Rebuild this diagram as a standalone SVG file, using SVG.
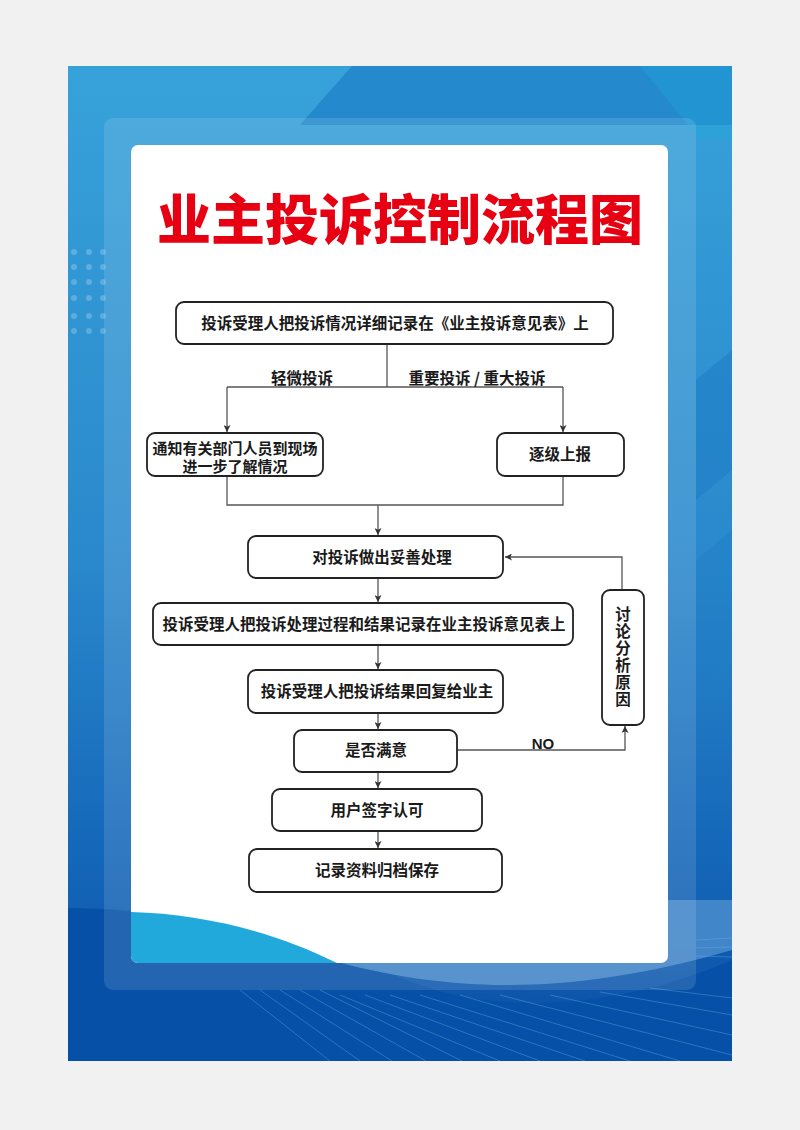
<svg xmlns="http://www.w3.org/2000/svg" width="800" height="1130" viewBox="0 0 800 1130">
  <defs>
    <linearGradient id="bg" x1="0" y1="0" x2="0" y2="1">
      <stop offset="0" stop-color="#37a2da"/>
      <stop offset="0.5" stop-color="#2a88cc"/>
      <stop offset="0.8" stop-color="#1466b8"/>
      <stop offset="1" stop-color="#0a4ea6"/>
    </linearGradient>
    <clipPath id="cardClip">
      <rect x="131" y="145" width="537" height="818" rx="7"/>
    </clipPath>
    <clipPath id="posterClip">
      <rect x="68" y="66" width="664" height="995"/>
    </clipPath>
    <marker id="arr" viewBox="0 0 8 8" refX="8" refY="4" markerWidth="7" markerHeight="7" orient="auto" markerUnits="userSpaceOnUse">
      <path d="M0,0 L8,4 L0,8 L2,4 z" fill="#333"/>
    </marker>
    <style>
      .box { fill: #fff; stroke: #222; stroke-width: 1.8; }
      .t { font-family: "Noto Sans CJK SC", "Noto Sans", sans-serif; font-size: 15.5px; font-weight: 700; fill: #1a1a1a; text-anchor: middle; }
      .t2 { font-family: "Noto Sans CJK SC", "Noto Sans", sans-serif; font-size: 15px; font-weight: 700; fill: #1a1a1a; text-anchor: middle; }
      .lbl { font-family: "Noto Sans CJK SC", "Noto Sans", sans-serif; font-size: 15.5px; font-weight: 700; fill: #1a1a1a; text-anchor: middle; }
      .con { fill: none; stroke: #555; stroke-width: 1.3; }
      .dot { fill: #ffffff; opacity: 0.22; }
      .ray { stroke: #6fb8ea; stroke-width: 0.8; opacity: 0.45; fill: none; }
    </style>
  </defs>

  <!-- page -->
  <rect x="0" y="0" width="800" height="1130" fill="#f1f1f1"/>

  <!-- poster background -->
  <g clip-path="url(#posterClip)">
    <rect x="68" y="66" width="664" height="995" fill="url(#bg)"/>
    <polygon points="300,125 352,66 732,66 732,125" fill="#1577c2" opacity="0.55"/>
    <polygon points="640,66 732,66 732,140 700,140" fill="#20a8dc" opacity="0.35"/>
    <polygon points="696,380 732,350 732,470 696,500" fill="#1a78c4" opacity="0.45"/>
    <polygon points="696,560 732,530 732,660 696,690" fill="#1e7cc6" opacity="0.4"/>
    <!-- lower dark band -->
    <path d="M68,908 C220,910 330,950 420,985 C520,1020 640,1000 732,960 L732,1061 L68,1061 Z" fill="#0650a8"/>
    <path d="M330,960 C440,990 560,1000 732,950 L732,900 L330,900 Z" fill="#4a8dcc" opacity="0.85"/>
    <!-- rays -->
    <g class="ray">
      <path d="M240,990 L330,1061"/>
      <path d="M260,990 L360,1061"/>
      <path d="M280,990 L392,1061"/>
      <path d="M300,990 L426,1061"/>
      <path d="M320,990 L462,1061"/>
      <path d="M340,995 L500,1061"/>
      <path d="M365,995 L540,1061"/>
      <path d="M390,995 L585,1061"/>
      <path d="M420,995 L630,1061"/>
      <path d="M460,995 L680,1061"/>
      <path d="M500,995 L732,1055"/>
      <path d="M550,995 L732,1035"/>
      <path d="M600,992 L732,1015"/>
      <path d="M650,988 L732,998"/>
      <path d="M696,940 L732,938"/>
      <path d="M696,948 L732,947"/>
      <path d="M696,956 L732,957"/>
    </g>
    <!-- dots -->
    <g>
      <circle class="dot" cx="74" cy="252" r="3"/><circle class="dot" cx="89" cy="252" r="3"/><circle class="dot" cx="103" cy="252" r="3"/>
      <circle class="dot" cx="74" cy="267" r="3"/><circle class="dot" cx="89" cy="267" r="3"/><circle class="dot" cx="103" cy="267" r="3"/>
      <circle class="dot" cx="74" cy="282" r="3"/><circle class="dot" cx="89" cy="282" r="3"/><circle class="dot" cx="103" cy="282" r="3"/>
      <circle class="dot" cx="74" cy="298" r="3"/><circle class="dot" cx="89" cy="298" r="3"/><circle class="dot" cx="103" cy="298" r="3"/>
      <circle class="dot" cx="74" cy="316" r="3"/><circle class="dot" cx="89" cy="316" r="3"/><circle class="dot" cx="103" cy="316" r="3"/>
      <circle class="dot" cx="74" cy="331" r="3"/><circle class="dot" cx="89" cy="331" r="3"/><circle class="dot" cx="103" cy="331" r="3"/>
    </g>
  </g>

  <!-- inner frame -->
  <rect x="104" y="118" width="592" height="872" rx="9" fill="#ffffff" opacity="0.12"/>

  <!-- white card -->
  <rect x="131" y="145" width="537" height="818" rx="7" fill="#ffffff"/>
  <g clip-path="url(#cardClip)">
    <path d="M131,912 C200,914 270,930 337,963 L131,963 Z" fill="#22a9dc"/>
  </g>

  <!-- title -->
  <text x="400" y="240" font-family="'Noto Sans CJK SC', sans-serif" font-size="54" font-weight="900" fill="#e60012" text-anchor="middle">业主投诉控制流程图</text>

  <!-- connectors -->
  <g id="connectors">
    <path class="con" d="M387,344 V387"/>
    <path class="con" d="M227,387 H563"/>
    <path class="con" d="M227,387 V432" marker-end="url(#arr)"/>
    <path class="con" d="M563,387 V432" marker-end="url(#arr)"/>
    <path class="con" d="M227,476 V505 H563 V477"/>
    <path class="con" d="M378,505 V535" marker-end="url(#arr)"/>
    <path class="con" d="M378,578 V602" marker-end="url(#arr)"/>
    <path class="con" d="M378,645 V669" marker-end="url(#arr)"/>
    <path class="con" d="M378,713 V729" marker-end="url(#arr)"/>
    <path class="con" d="M457,750 H625 V726" marker-end="url(#arr)"/>
    <path class="con" d="M622,590 V557 H505" marker-end="url(#arr)"/>
    <path class="con" d="M378,772 V788" marker-end="url(#arr)"/>
    <path class="con" d="M378,831 V848" marker-end="url(#arr)"/>
    <text class="lbl" x="302" y="384">轻微投诉</text>
    <text class="lbl" x="477" y="384">重要投诉 / 重大投诉</text>
    <text x="543" y="749" font-family="'Liberation Sans', Arial, sans-serif" font-size="15" font-weight="700" fill="#1a1a1a" text-anchor="middle">NO</text>
  </g>

  <!-- nodes -->
  <g id="n1">
    <rect class="box" x="176" y="302" width="437" height="42" rx="8"/>
    <text class="t" x="395" y="328.5">投诉受理人把投诉情况详细记录在《业主投诉意见表》上</text>
  </g>
  <g id="n2">
    <rect class="box" x="147" y="433" width="176" height="43" rx="8"/>
    <text class="t2"><tspan x="235" y="453.5">通知有关部门人员到现场</tspan><tspan x="235" y="471.5">进一步了解情况</tspan></text>
  </g>
  <g id="n3">
    <rect class="box" x="497" y="433" width="127" height="43" rx="8"/>
    <text class="t" x="560" y="460">逐级上报</text>
  </g>
  <g id="n4">
    <rect class="box" x="248" y="536" width="255" height="42" rx="8"/>
    <text class="t" x="382" y="562.5">对投诉做出妥善处理</text>
  </g>
  <g id="n5">
    <rect class="box" x="153" y="603" width="420" height="42" rx="8"/>
    <text class="t" x="364" y="629.5">投诉受理人把投诉处理过程和结果记录在业主投诉意见表上</text>
  </g>
  <g id="n6">
    <rect class="box" x="248" y="670" width="255" height="43" rx="8"/>
    <text class="t" x="377" y="697">投诉受理人把投诉结果回复给业主</text>
  </g>
  <g id="n7">
    <rect class="box" x="294" y="730" width="163" height="42" rx="8"/>
    <text class="t" x="376" y="756">是否满意</text>
  </g>
  <g id="n8">
    <rect class="box" x="602" y="590" width="42" height="135" rx="8"/>
    <text class="t" x="623" y="657.5" style="writing-mode: vertical-rl; letter-spacing: 1.5px;">讨论分析原因</text>
  </g>
  <g id="n9">
    <rect class="box" x="272" y="789" width="210" height="42" rx="8"/>
    <text class="t" x="377" y="815.5">用户签字认可</text>
  </g>
  <g id="n10">
    <rect class="box" x="249" y="849" width="253" height="43" rx="8"/>
    <text class="t" x="377" y="875.5">记录资料归档保存</text>
  </g>
</svg>
